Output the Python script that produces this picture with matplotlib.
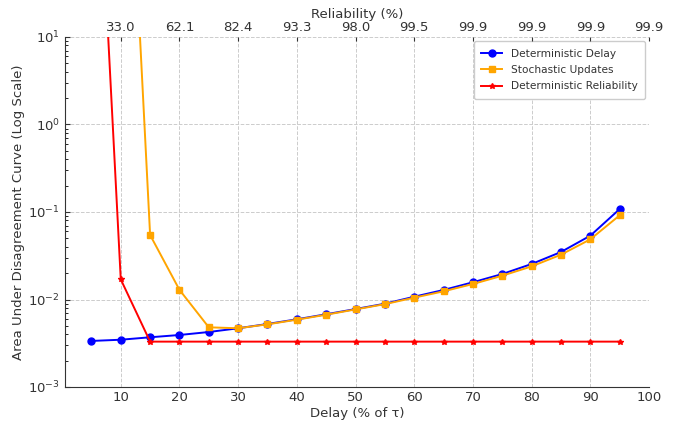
import numpy as np
import matplotlib.pyplot as plt

# delay as % of tau
delay = [5, 10, 15, 20, 25, 30, 35, 40, 45, 50, 55, 60, 65, 70, 75, 80, 85, 90, 95]

auc_det_delay = [0.00336, 0.00347, 0.0037, 0.00393, 0.00425, 0.00469, 0.00525, 0.00594,
                 0.00678, 0.00778, 0.00895, 0.01076, 0.01285, 0.01574, 0.01955, 0.02545,
                 0.0349, 0.0536, 0.108]

delay_stoch = delay[1:]
auc_stoch = [2e5, 0.0546, 0.0129, 0.00481, 0.00469, 0.0052, 0.00588, 0.0067, 0.0077,
             0.00885, 0.0105, 0.0124, 0.01503, 0.0187, 0.0239, 0.0325, 0.0487, 0.0916]

auc_det_rel = [5e4, 0.017, 0.0033, 0.0033, 0.0033, 0.0033, 0.0033, 0.0033, 0.0033, 0.0033,
               0.0033, 0.0033, 0.0033, 0.0033, 0.0033, 0.0033, 0.0033, 0.0033, 0.0033]

rel_ticks = [10, 20, 30, 40, 50, 60, 70, 80, 90, 100]
rel_labels = ["33.0", "62.1", "82.4", "93.3", "98.0", "99.5", "99.9", "99.9", "99.9", "99.9"]

plt.rcParams['xtick.direction'] = 'in'
plt.rcParams['ytick.direction'] = 'in'

fig = plt.figure(figsize=(6.88, 4.28), dpi=100)
ax = fig.add_axes([65/688, 1 - 387/428, (649 - 65)/688, (387 - 37)/428])

ax.plot(delay, auc_det_delay, '-o', color='blue', lw=1.4, ms=5, label='Deterministic Delay')
ax.plot(delay_stoch, auc_stoch, '-s', color='orange', lw=1.4, ms=5, label='Stochastic Updates')
ax.plot(delay, auc_det_rel, '-*', color='red', lw=1.4, ms=4, label='Deterministic Reliability')

ax.set_yscale('log')
ax.set_ylim(1e-3, 1e1)
ax.set_xlim(0.5, 100)
ax.set_xticks([10, 20, 30, 40, 50, 60, 70, 80, 90, 100])
ax.tick_params(axis='x', length=0, labelsize=9.5, colors='#333333', pad=3)
ax.tick_params(axis='y', labelsize=9.5, colors='#333333')
ax.set_xlabel('Delay (% of τ)', fontsize=9.5, color='#333333', labelpad=2)
ax.set_ylabel('Area Under Disagreement Curve (Log Scale)', fontsize=9.5, color='#333333',
              labelpad=2)
ax.grid(True, which='major', linestyle='--', color='#cccccc', lw=0.7)
ax.spines['top'].set_visible(False)
ax.spines['right'].set_visible(False)
ax.spines['left'].set_color('#333333')
ax.spines['bottom'].set_color('#333333')

leg = ax.legend(loc='upper right', fontsize=7.6, framealpha=1, edgecolor='#cccccc',
                borderaxespad=0.4, borderpad=0.7, labelspacing=0.6)
for t in leg.get_texts():
    t.set_color('#333333')

ax2 = ax.twiny()
ax2.set_xlim(ax.get_xlim())
ax2.set_xticks(rel_ticks)
ax2.set_xticklabels(rel_labels)
ax2.tick_params(axis='x', labelsize=9.5, colors='#333333', length=3, pad=2)
ax2.set_xlabel('Reliability (%)', fontsize=9.5, color='#333333', labelpad=2)
for s in ax2.spines.values():
    s.set_visible(False)

fig.savefig('out.png', dpi=100)
